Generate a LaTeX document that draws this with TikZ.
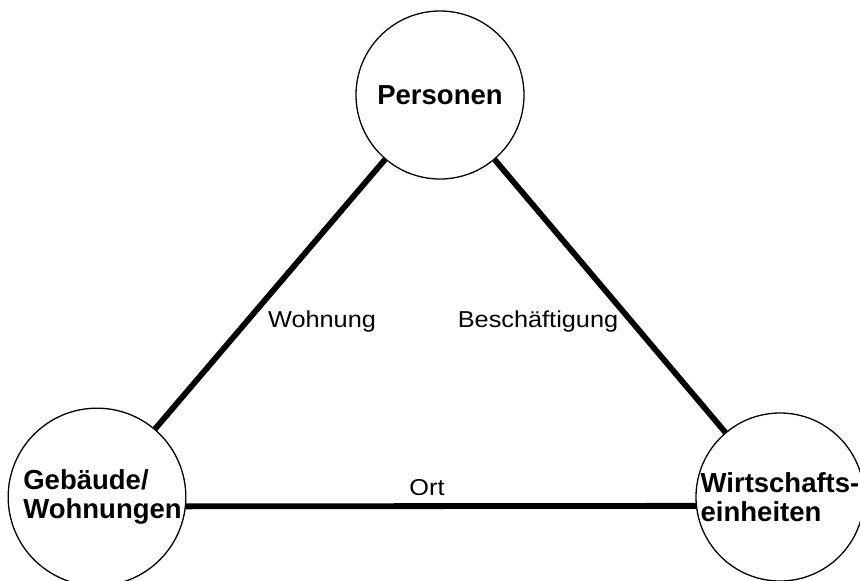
\documentclass[tikz,border=0pt]{standalone}
\usepackage{fontspec}
\setmainfont{Liberation Sans}
\newfontfamily\labelfont[FakeStretch=1.1]{Liberation Sans}
\begin{document}
\begin{tikzpicture}[x=1pt,y=-1pt,
  entity/.style={circle,draw,line width=1.3pt,minimum size=168pt,inner sep=0pt,
    align=left,font=\fontsize{27.5}{29}\selectfont\bfseries},
  relation/.style={line width=5.8pt},
  rellabel/.style={anchor=base,inner sep=0pt,font=\fontsize{23}{26}\labelfont}]
  \useasboundingbox (0,0) rectangle (860,581);

  % the three entity types
  \node[entity] (pers) at (440,95) {Personen};
  \node[entity] (geb) at (97,497) {\hspace*{11pt}Gebäude/\\\hspace*{11pt}Wohnungen};
  \node[entity] (wirt) at (780,497) {Wirtschafts-\\einheiten};

  % relations between them
  \draw[relation] (pers) -- (geb);
  \draw[relation] (pers) -- (wirt);
  \draw[relation] (geb.-6) -- (wirt.186);

  % relation names
  \node[rellabel] (lwohn) at (322,327) {Wohnung};
  \node[rellabel] (lbesch) at (538,327) {Beschäftigung};
  \node[rellabel] (lort) at (427,495) {Ort};
\end{tikzpicture}
\end{document}
